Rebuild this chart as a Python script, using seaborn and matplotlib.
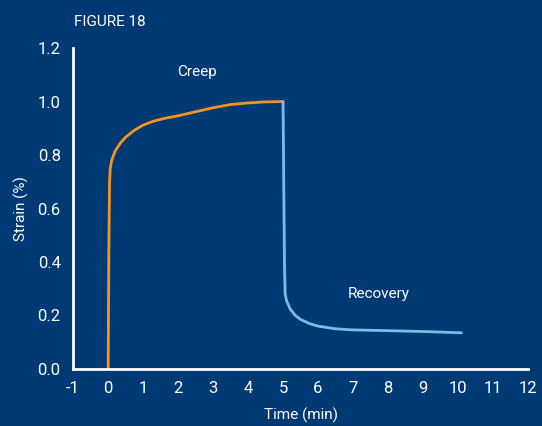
import matplotlib
matplotlib.use("Agg")
import matplotlib.pyplot as plt
import seaborn as sns
import pandas as pd

# Data
creep_time = [0.0, 0.02, 0.04, 0.06, 0.1, 0.2, 0.35, 0.5, 0.75, 1.0, 1.3, 1.6, 2.0, 2.5, 3.0, 3.5, 4.0, 4.5, 5.0]
creep_strain = [0.0, 0.45, 0.70, 0.75, 0.78, 0.815, 0.845, 0.867, 0.893, 0.912, 0.927, 0.937, 0.947, 0.962, 0.977, 0.989, 0.995, 0.999, 1.0]
rec_time = [5.0, 5.02, 5.04, 5.06, 5.1, 5.2, 5.35, 5.5, 5.75, 6.0, 6.5, 7.0, 8.0, 9.0, 10.1]
rec_strain = [1.0, 0.70, 0.40, 0.28, 0.255, 0.225, 0.200, 0.185, 0.170, 0.160, 0.150, 0.146, 0.143, 0.140, 0.135]
x_ticks = list(range(-1, 13))
y_ticks = [0.0, 0.2, 0.4, 0.6, 0.8, 1.0, 1.2]

bg = "#003a75"
orange = "#f7941d"
lblue = "#7fbbe8"

sns.set_theme(style="white")
plt.rcParams['font.family'] = ['Roboto', 'DejaVu Sans']

fig = plt.figure(figsize=(5.42, 4.26), dpi=100, facecolor=bg)
ax = fig.add_axes([0.135, 0.134, 0.839, 0.753])
ax.set_facecolor(bg)

creep = pd.DataFrame({"t": creep_time, "s": creep_strain})
rec = pd.DataFrame({"t": rec_time, "s": rec_strain})
sns.lineplot(data=creep, x="t", y="s", ax=ax, color=orange, linewidth=2, sort=False)
sns.lineplot(data=rec, x="t", y="s", ax=ax, color=lblue, linewidth=2, sort=False)

ax.set_xlim(-1, 12)
ax.set_ylim(0, 1.2)
ax.set_xticks(x_ticks)
ax.set_xticklabels([str(v) for v in x_ticks])
ax.set_yticks(y_ticks)
ax.set_yticklabels([f"{v:.1f}" for v in y_ticks])

for s in ["top", "right"]:
    ax.spines[s].set_visible(False)
for s in ["left", "bottom"]:
    ax.spines[s].set_color("white")
    ax.spines[s].set_linewidth(2)
ax.tick_params(axis="both", colors="white", direction="out", length=5, width=2, labelsize=12, pad=4)

ax.set_xlabel("Time (min)", color="white", fontsize=11)
ax.set_ylabel("Strain (%)", color="white", fontsize=11)
ax.xaxis.set_label_coords(0.5, -0.12)
ax.yaxis.set_label_coords(-0.097, 0.5)

ax.text(2.55, 1.11, "Creep", color="white", fontsize=11, ha="center", va="center")
ax.text(7.75, 0.28, "Recovery", color="white", fontsize=11, ha="center", va="center")
fig.text(0.137, 0.948, "FIGURE 18", color="white", fontsize=11, ha="left", va="center")

fig.savefig("out.png", dpi=100, facecolor=bg)
